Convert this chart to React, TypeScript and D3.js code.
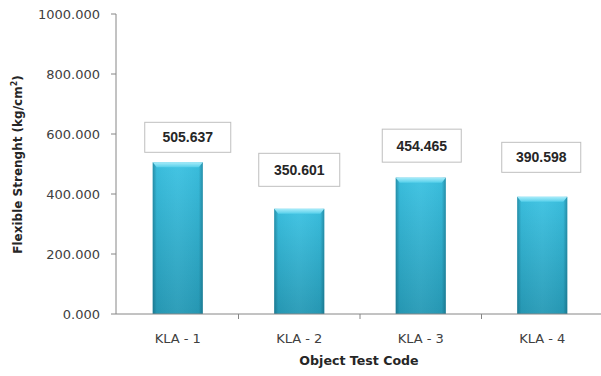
import React from "react";
import * as d3 from "d3";

const categories = ["KLA - 1", "KLA - 2", "KLA - 3", "KLA - 4"];
const values = [505.637, 350.601, 454.465, 390.598];
const labelTexts = ["505.637", "350.601", "454.465", "390.598"];
const yTicks = [0, 200, 400, 600, 800, 1000];
// label box layout (manual offsets as in reference): dx from bar center, gap (px) from bar top to box center
const labelDx = [10, 0, 1, -1];
const labelGap = [25, 39, 32, 39.5];
const labelW = [86, 81, 79, 79];
const labelH = [30, 33, 33, 30];

const W = 601;
const H = 376;

export default function App() {
  const x = d3.scaleBand<string>().domain(categories).range([117, 603]).paddingInner(0.588).paddingOuter(0.294);
  const y = d3.scaleLinear().domain([0, 1000]).range([314, 14]);
  const axisColor = "#868686";
  const bw = x.bandwidth();
  const step = x.step();
  const x0 = 116;

  return (
    <svg
      width={W}
      height={H}
      style={{ position: "absolute", left: 0, top: 0, background: "#fff" }}
    >
      <defs>
        <linearGradient id="gv" x1="0" y1="0" x2="0" y2="1">
          <stop offset="0" stopColor="#3cc2e2" />
          <stop offset="1" stopColor="#279ab6" />
        </linearGradient>
        <linearGradient id="gh" x1="0" y1="0" x2="1" y2="0">
          <stop offset="0" stopColor="#0b4f62" stopOpacity="0.45" />
          <stop offset="0.08" stopColor="#0b4f62" stopOpacity="0.05" />
          <stop offset="0.5" stopColor="#ffffff" stopOpacity="0.04" />
          <stop offset="0.92" stopColor="#0b4f62" stopOpacity="0.05" />
          <stop offset="1" stopColor="#0b4f62" stopOpacity="0.45" />
        </linearGradient>
        <linearGradient id="gtop" x1="0" y1="0" x2="0" y2="1">
          <stop offset="0" stopColor="#a8ecfa" />
          <stop offset="1" stopColor="#55cfea" />
        </linearGradient>
      </defs>

      {/* bars */}
      {values.map((v, i) => {
        const bx = x(categories[i])!;
        const by = y(v);
        const bh = y(0) - by;
        return (
          <g key={"b" + i}>
            <rect x={bx} y={by} width={bw} height={bh} fill="url(#gv)" />
            <rect x={bx} y={by} width={bw} height={bh} fill="url(#gh)" />
            <path
              d={`M${bx},${by} L${bx + bw},${by} L${bx + bw - 4},${by + 5} L${bx + 4},${by + 5} Z`}
              fill="url(#gtop)"
            />
          </g>
        );
      })}

      {/* y axis */}
      <line x1={x0} x2={x0} y1={y(1000)} y2={y(0)} stroke={axisColor} strokeWidth={1} />
      {yTicks.map((t) => (
        <g key={"yt" + t}>
          <line x1={x0 - 5} x2={x0} y1={y(t)} y2={y(t)} stroke={axisColor} />
          <text
            x={x0 - 16}
            y={y(t)}
            dy="0.36em"
            textAnchor="end"
            fontFamily="DejaVu Sans"
            fontSize={13}
            fill="#404040"
          >
            {t.toFixed(3)}
          </text>
        </g>
      ))}

      {/* x axis */}
      <line x1={x0} x2={W} y1={y(0)} y2={y(0)} stroke={axisColor} strokeWidth={1} />
      {categories.map((c, i) => {
        const tx = 117 + step * (i + 1);
        return (
          <line key={"xt" + i} x1={tx} x2={tx} y1={y(0)} y2={y(0) + 5} stroke={axisColor} />
        );
      })}
      {categories.map((c) => (
        <text
          key={"xl" + c}
          x={x(c)! + bw / 2}
          y={343}
          textAnchor="middle"
          fontFamily="DejaVu Sans"
          fontSize={13}
          fill="#404040"
        >
          {c}
        </text>
      ))}

      {/* data labels */}
      {values.map((v, i) => {
        const cx = x(categories[i])! + bw / 2 + labelDx[i];
        const cy = y(v) - labelGap[i];
        return (
          <g key={"l" + i}>
            <rect
              x={cx - labelW[i] / 2}
              y={cy - labelH[i] / 2}
              width={labelW[i]}
              height={labelH[i]}
              fill="#fff"
              stroke="#bfbfbf"
              strokeWidth={1}
            />
            <text
              x={cx}
              y={cy}
              dy="0.36em"
              textAnchor="middle"
              fontFamily="Liberation Sans"
              fontWeight="bold"
              fontSize={14}
              fill="#262626"
            >
              {labelTexts[i]}
            </text>
          </g>
        );
      })}

      {/* axis titles */}
      <text
        x={359}
        y={365}
        textAnchor="middle"
        fontFamily="DejaVu Sans"
        fontWeight="bold"
        fontSize={12.6}
        fill="#262626"
      >
        Object Test Code
      </text>
      <text
        transform={`translate(22,${(76 + 253) / 2}) rotate(-90)`}
        textAnchor="middle"
        fontFamily="DejaVu Sans"
        fontWeight="bold"
        fontSize={12}
        fill="#262626"
      >
        Flexible Strenght (kg/cm
        <tspan fontSize={8} dy={-5}>2</tspan>
        <tspan dy={5}>)</tspan>
      </text>
    </svg>
  );
}
